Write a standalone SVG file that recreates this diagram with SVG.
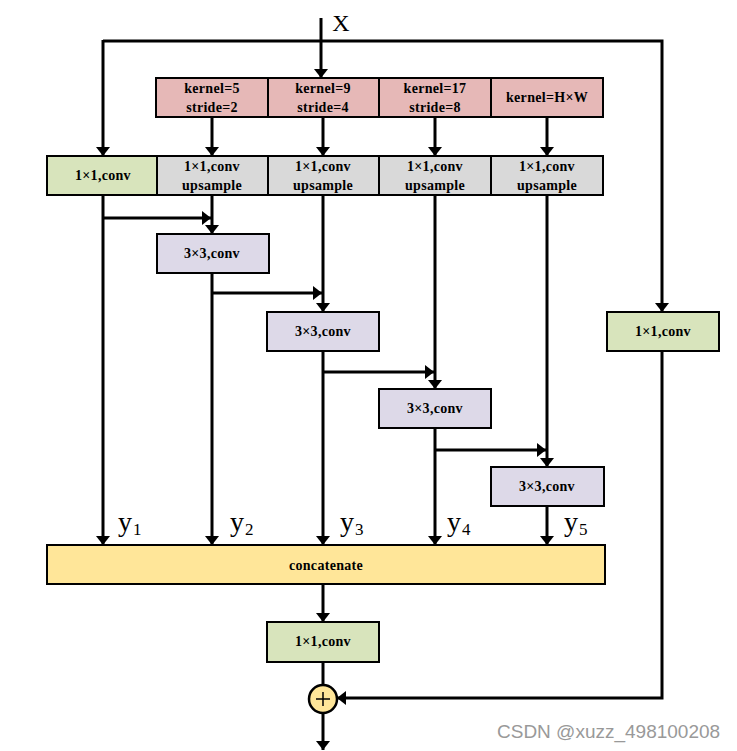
<svg xmlns="http://www.w3.org/2000/svg" width="737" height="751" viewBox="0 0 737 751">
<style>
.box{stroke:#000;stroke-width:2}
.pink{fill:#E6B8B7}.gray{fill:#D9D9D9}.green{fill:#D8E4BC}.lav{fill:#DDD9E8}.yel{fill:#FFE699}
.t{font-family:"Liberation Serif",serif;font-weight:bold;font-size:14px;letter-spacing:0.3px;text-anchor:middle;fill:#000}
.y{font-family:"Liberation Serif",serif;font-size:28px;fill:#000}
.ys{font-family:"Liberation Serif",serif;font-size:17px;fill:#000}
.c{fill:none;stroke:#000;stroke-width:3}
</style>
<defs>
<marker id="a" markerUnits="userSpaceOnUse" viewBox="0 0 9 14" refX="9" refY="7" markerWidth="9" markerHeight="14" orient="auto">
<path d="M0,0 L9,7 L0,14 z" fill="#000"/>
</marker>
</defs>
<g id="connectors">
<path class="c" d="M321,18 V78" marker-end="url(#a)"/>
<path class="c" d="M103,41 H662 V312" marker-end="url(#a)"/>
<path class="c" d="M103,40 V156" marker-end="url(#a)"/>
<path class="c" d="M212,117 V156" marker-end="url(#a)"/>
<path class="c" d="M323,117 V156" marker-end="url(#a)"/>
<path class="c" d="M435,117 V156" marker-end="url(#a)"/>
<path class="c" d="M547,117 V156" marker-end="url(#a)"/>
<path class="c" d="M103,195 V545" marker-end="url(#a)"/>
<path class="c" d="M103,218 H211" marker-end="url(#a)"/>
<path class="c" d="M212,195 V234" marker-end="url(#a)"/>
<path class="c" d="M212,273 V545" marker-end="url(#a)"/>
<path class="c" d="M212,293 H322" marker-end="url(#a)"/>
<path class="c" d="M323,195 V312" marker-end="url(#a)"/>
<path class="c" d="M323,351 V545" marker-end="url(#a)"/>
<path class="c" d="M323,372 H434" marker-end="url(#a)"/>
<path class="c" d="M435,195 V389" marker-end="url(#a)"/>
<path class="c" d="M435,428 V545" marker-end="url(#a)"/>
<path class="c" d="M435,450 H546" marker-end="url(#a)"/>
<path class="c" d="M547,195 V467" marker-end="url(#a)"/>
<path class="c" d="M547,506 V545" marker-end="url(#a)"/>
<path class="c" d="M323,584 V622" marker-end="url(#a)"/>
<path class="c" d="M323,662 V685"/>
<path class="c" d="M662,351 V698 H337" marker-end="url(#a)"/>
<path class="c" d="M323,713 V750" marker-end="url(#a)"/>
</g>
<text x="341" y="31" font-family="Liberation Serif,serif" font-size="24" text-anchor="middle">X</text>
<g id="p1"><rect class="box pink" x="156" y="78" width="112" height="39"/><text class="t" x="212" y="93">kernel=5</text><text class="t" x="212" y="112">stride=2</text></g>
<g id="p2"><rect class="box pink" x="268" y="78" width="111" height="39"/><text class="t" x="323" y="93">kernel=9</text><text class="t" x="323" y="112">stride=4</text></g>
<g id="p3"><rect class="box pink" x="379" y="78" width="112" height="39"/><text class="t" x="435" y="93">kernel=17</text><text class="t" x="435" y="112">stride=8</text></g>
<g id="p4"><rect class="box pink" x="491" y="78" width="112" height="39"/><text class="t" x="547" y="102">kernel=H×W</text></g>
<g id="g0"><rect class="box green" x="47" y="156" width="110" height="39"/><text class="t" x="103" y="180">1×1,conv</text></g>
<g id="g1"><rect class="box gray" x="157" y="156" width="111" height="39"/><text class="t" x="212" y="171">1×1,conv</text><text class="t" x="212" y="190">upsample</text></g>
<g id="g2"><rect class="box gray" x="268" y="156" width="111" height="39"/><text class="t" x="323" y="171">1×1,conv</text><text class="t" x="323" y="190">upsample</text></g>
<g id="g3"><rect class="box gray" x="379" y="156" width="112" height="39"/><text class="t" x="435" y="171">1×1,conv</text><text class="t" x="435" y="190">upsample</text></g>
<g id="g4"><rect class="box gray" x="491" y="156" width="112" height="39"/><text class="t" x="547" y="171">1×1,conv</text><text class="t" x="547" y="190">upsample</text></g>
<g id="c1"><rect class="box lav" x="157" y="234" width="112" height="39"/><text class="t" x="212" y="258">3×3,conv</text></g>
<g id="c2"><rect class="box lav" x="267" y="312" width="112" height="39"/><text class="t" x="323" y="336">3×3,conv</text></g>
<g id="c3"><rect class="box lav" x="379" y="389" width="112" height="39"/><text class="t" x="435" y="413">3×3,conv</text></g>
<g id="c4"><rect class="box lav" x="491" y="467" width="113" height="39"/><text class="t" x="547" y="491">3×3,conv</text></g>
<g id="rg"><rect class="box green" x="607" y="312" width="112" height="39"/><text class="t" x="663" y="336">1×1,conv</text></g>
<g id="labels">
<text class="y" x="118" y="531">y</text><text class="ys" x="133" y="535">1</text>
<text class="y" x="230" y="531">y</text><text class="ys" x="245" y="535">2</text>
<text class="y" x="340" y="531">y</text><text class="ys" x="355" y="535">3</text>
<text class="y" x="447" y="531">y</text><text class="ys" x="462" y="535">4</text>
<text class="y" x="564" y="531">y</text><text class="ys" x="579" y="535">5</text>
</g>
<g id="cat"><rect class="box yel" x="47" y="545" width="558" height="39"/><text class="t" x="326" y="570">concatenate</text></g>
<g id="bc"><rect class="box green" x="267" y="622" width="112" height="40"/><text class="t" x="323" y="646">1×1,conv</text></g>
<g id="plus"><circle cx="323" cy="699" r="14" fill="#FFE699" stroke="#000" stroke-width="2.5"/><path d="M316,699 H330 M323,692 V706" stroke="#000" stroke-width="1.5"/></g>
<text x="497" y="738" font-family="Liberation Sans,Arial,sans-serif" font-size="19" fill="#999">CSDN @xuzz_498100208</text>
</svg>
